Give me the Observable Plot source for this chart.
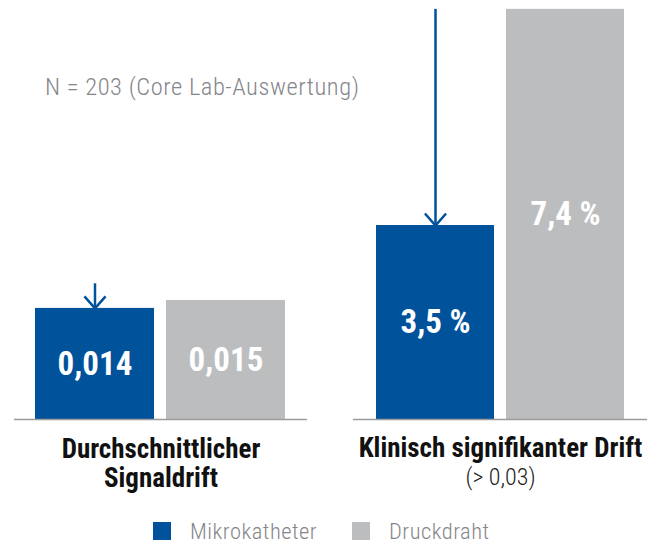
<!DOCTYPE html>
<html>
<head>
<meta charset="utf-8">
<script src="https://cdn.jsdelivr.net/npm/d3@7"></script>
<script src="https://cdn.jsdelivr.net/npm/@observablehq/plot@0.6"></script>
<style>
  body { margin: 0; background: #fff; }
  #wrap { position: relative; width: 660px; height: 544px; font-family: "Liberation Sans Narrow", "Roboto Condensed", "DejaVu Sans Condensed", Roboto, sans-serif; }
  #charts { position: absolute; left: 0; top: 0; display: flex; }
  #note { position: absolute; left: 45px; top: 75px; font-size: 24.5px; font-weight: 300; line-height: 1; color: #85868a; white-space: nowrap; letter-spacing: 0.55px; }
  .leg { position: absolute; top: 522px; display: flex; align-items: center; font-size: 22.5px; font-weight: 300; line-height: 18px; color: #85868a; white-space: nowrap; letter-spacing: 0.5px; }
  .sw { width: 18px; height: 18px; margin-right: 19px; }
</style>
</head>
<body>
<div id="wrap">
  <div id="charts"></div>
  <div id="note">N = 203 (Core Lab-Auswertung)</div>
  <div id="legend"></div>
</div>
<script>
// ---- data ----
const series = ["Mikrokatheter", "Druckdraht"];
const colors = ["#00529B", "#BCBDBF"];

const avgCategory = "Durchschnittlicher\nSignaldrift";
const avgValues = [0.014, 0.015];
const avgLabels = ["0,014", "0,015"];
const avgArrowTop = 0.0171;

const sigCategory = "Klinisch signifikanter Drift";
const sigNote = "(> 0,03)";
const sigValues = [3.5, 7.4];
const sigLabels = ["3,5 %", "7,4 %"];
const sigArrowTop = 7.4;

const FONT = '"Liberation Sans Narrow", "Roboto Condensed", "DejaVu Sans Condensed", Roboto, sans-serif';
const BLUE = colors[0];

// open V arrow head, tip at the point
const vHead = {
  draw(ctx, size) {
    const r = Math.sqrt(size / Math.PI);
    ctx.moveTo(-0.88 * r, -r);
    ctx.lineTo(0, 0);
    ctx.lineTo(0.88 * r, -r);
  }
};

function groupChart({values, labels, yMax, arrowTop, marginLeft, marginRight, paddingOuter, extraMarks}) {
  const data = series.map((s, i) => ({series: s, value: values[i], label: labels[i]}));
  const arrow = [{series: series[0], from: arrowTop, to: values[0]}];
  return Plot.plot({
    width: 330,
    height: 500,
    marginTop: 0,
    marginBottom: 81,
    marginLeft,
    marginRight,
    x: {domain: series, axis: null, paddingInner: 0.0916, paddingOuter},
    y: {domain: [0, yMax], axis: null},
    color: {domain: series, range: colors},
    style: {fontFamily: FONT, background: "transparent", overflow: "visible"},
    marks: [
      Plot.barY(data, {x: "series", y: "value", fill: "series"}),
      Plot.ruleY([0], {stroke: "#9a9b9d", strokeWidth: 1.5}),
      Plot.text(data, Plot.stackY({x: "series", y: "value", text: "label", fill: "white", fontSize: 33, fontWeight: "bold"})),
      Plot.ruleX(arrow, {x: "series", y1: "from", y2: "to", stroke: BLUE, strokeWidth: 2.5}),
      Plot.dot(arrow, {x: "series", y: "to", symbol: vHead, r: 12, fill: "none", stroke: BLUE, strokeWidth: 2.5}),
      ...extraMarks
    ]
  });
}

const left = groupChart({
  values: avgValues, labels: avgLabels, yMax: 0.0528, arrowTop: avgArrowTop,
  marginLeft: 14, marginRight: 23, paddingOuter: 0.164,
  extraMarks: [
    Plot.text([avgCategory], {frameAnchor: "bottom", lineAnchor: "top", dy: 18, fontSize: 27, fontWeight: "bold", fill: "#111", lineHeight: 1.08})
  ]
});

const right = groupChart({
  values: sigValues, labels: sigLabels, yMax: 7.56, arrowTop: sigArrowTop,
  marginLeft: 23, marginRight: 13, paddingOuter: 0.168,
  extraMarks: [
    Plot.text([sigCategory], {frameAnchor: "bottom", lineAnchor: "top", dy: 18, fontSize: 27, fontWeight: "bold", fill: "#111"}),
    Plot.text([sigNote], {frameAnchor: "bottom", lineAnchor: "top", dy: 48, fontSize: 24, fontWeight: 300, fill: "#222"})
  ]
});

document.getElementById("charts").append(left, right);

// legend
const legendLeft = [153, 352];
const legend = document.getElementById("legend");
series.forEach((s, i) => {
  const item = document.createElement("div");
  item.className = "leg";
  item.style.left = legendLeft[i] + "px";
  const sw = document.createElement("div");
  sw.className = "sw";
  sw.style.background = colors[i];
  const t = document.createElement("span");
  t.textContent = s;
  item.append(sw, t);
  legend.append(item);
});
</script>
</body>
</html>
